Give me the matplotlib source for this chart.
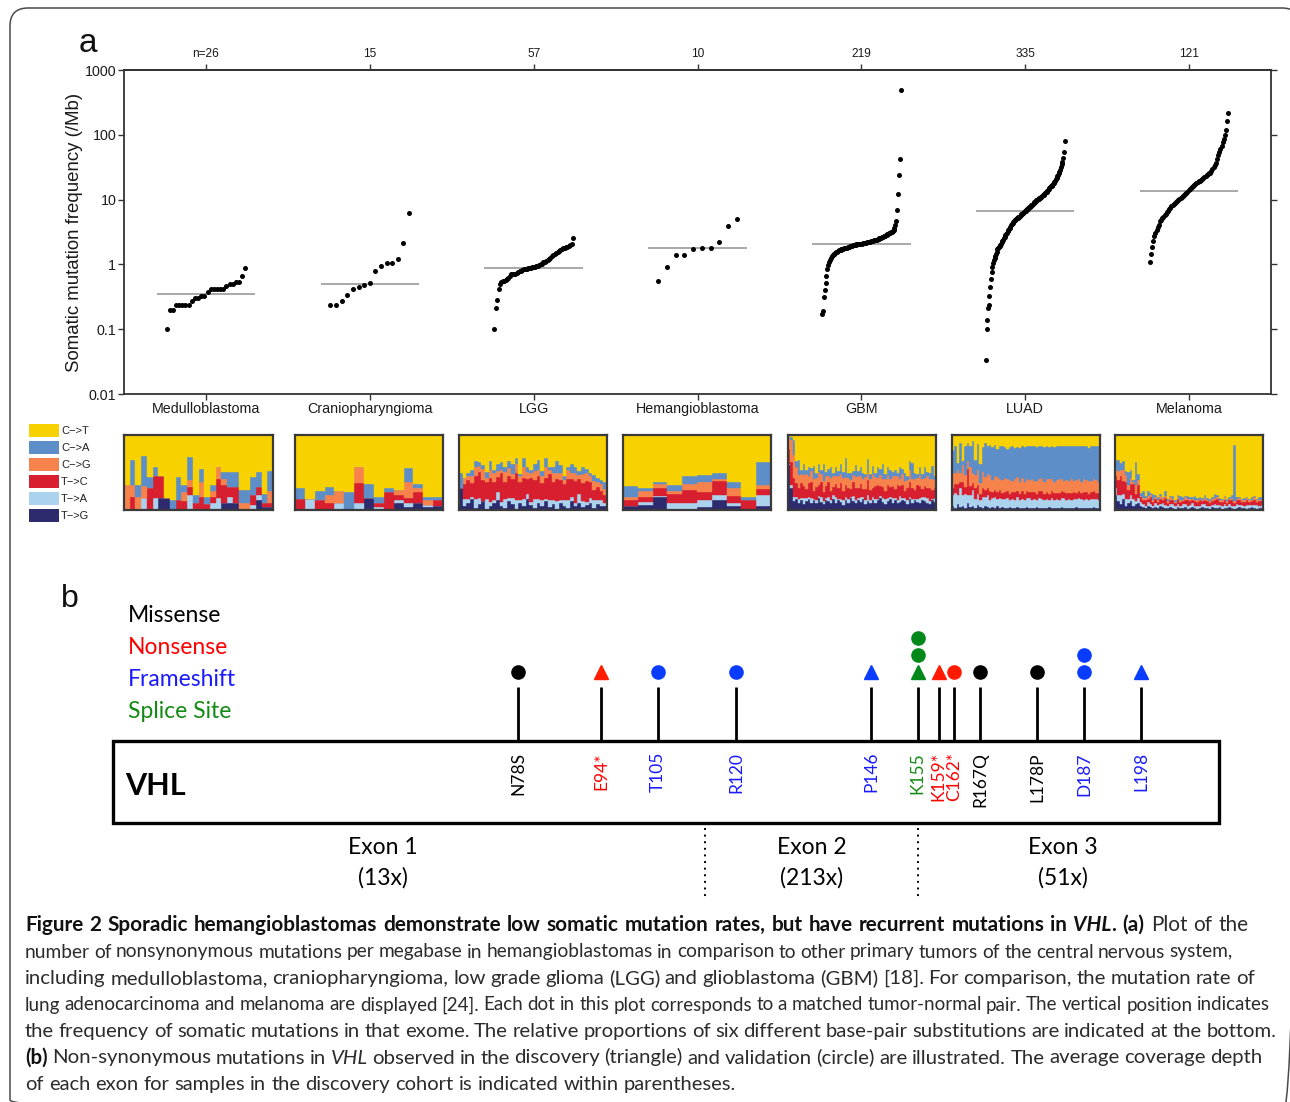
import matplotlib
matplotlib.use('Agg')
import matplotlib.pyplot as plt
import numpy as np
from matplotlib.patches import Rectangle, FancyBboxPatch

W, H = 1290, 1102

# ---------------- panel a: mutation rates (/Mb), sorted per tumour type
groups = ["Medulloblastoma", "Craniopharyngioma", "LGG", "Hemangioblastoma", "GBM", "LUAD", "Melanoma"]
group_n = ["n=26", "15", "57", "10", "219", "335", "121"]

medullo_rate = [0.10, 0.20, 0.20, 0.24, 0.24, 0.24, 0.24, 0.24, 0.27, 0.30, 0.30, 0.33, 0.33,
                0.37, 0.41, 0.41, 0.41, 0.41, 0.41, 0.47, 0.50, 0.50, 0.53, 0.54, 0.67, 0.89]
cranio_rate = [0.24, 0.24, 0.27, 0.34, 0.41, 0.45, 0.48, 0.52, 0.79, 0.96, 1.06, 1.06, 1.22, 2.17, 6.3]
lgg_rate = [0.10, 0.21, 0.28, 0.42, 0.50, 0.53, 0.55, 0.56, 0.58, 0.60,
            0.62, 0.66, 0.70, 0.72, 0.72, 0.72, 0.73, 0.75, 0.78, 0.80,
            0.82, 0.84, 0.85, 0.86, 0.87, 0.88, 0.89, 0.90, 0.91, 0.92,
            0.93, 0.95, 0.97, 1.00, 1.03, 1.07, 1.10, 1.14, 1.18, 1.22,
            1.27, 1.34, 1.40, 1.46, 1.52, 1.57, 1.62, 1.67, 1.72, 1.76,
            1.80, 1.84, 1.88, 1.93, 1.98, 2.05, 2.55]
hemangio_rate = [0.55, 0.92, 1.38, 1.41, 1.75, 1.78, 1.81, 2.24, 3.9, 5.1]
gbm_rate = [0.17, 0.19, 0.31, 0.40, 0.52, 0.66, 0.84, 0.98, 1.09, 1.18,
            1.26, 1.33, 1.38, 1.43, 1.47, 1.51, 1.55, 1.58, 1.61, 1.64,
            1.66, 1.68, 1.70, 1.72, 1.74, 1.76, 1.78, 1.80, 1.82, 1.84,
            1.86, 1.88, 1.90, 1.92, 1.94, 1.96, 1.98, 2.00, 2.02, 2.04,
            2.05, 2.06, 2.07, 2.08, 2.09, 2.10, 2.11, 2.12, 2.13, 2.14,
            2.16, 2.18, 2.20, 2.22, 2.24, 2.26, 2.28, 2.30, 2.32, 2.34,
            2.36, 2.39, 2.42, 2.45, 2.48, 2.52, 2.56, 2.60, 2.64, 2.68,
            2.73, 2.78, 2.83, 2.88, 2.93, 2.98, 3.03, 3.08, 3.13, 3.19,
            3.27, 3.40, 3.6, 4.1, 4.7, 6.8, 12.3, 23.6, 43, 485]
luad_rate = [0.034, 0.10, 0.14, 0.21, 0.24, 0.33, 0.45, 0.59, 0.75, 0.92,
             1.05, 1.15, 1.25, 1.35, 1.45, 1.55, 1.70, 1.77, 1.85, 1.93,
             2.01, 2.10, 2.19, 2.29, 2.40, 2.52, 2.65, 2.80, 2.95, 3.10,
             3.23, 3.37, 3.52, 3.67, 3.83, 4.00, 4.17, 4.35, 4.52, 4.65,
             4.76, 4.87, 4.99, 5.11, 5.23, 5.36, 5.48, 5.61, 5.75, 5.89,
             6.03, 6.17, 6.32, 6.47, 6.62, 6.78, 6.94, 7.11, 7.28, 7.45,
             7.63, 7.82, 8.01, 8.20, 8.40, 8.61, 8.82, 9.03, 9.25, 9.48,
             9.70, 9.90, 10.1, 10.3, 10.5, 10.7, 10.9, 11.1, 11.4, 11.6,
             11.9, 12.2, 12.5, 12.9, 13.3, 13.7, 14.1, 14.6, 15.0, 15.5,
             16.0, 16.5, 17.1, 17.6, 18.2, 18.8, 19.6, 20.6, 21.7, 22.8,
             24.0, 25.3, 26.6, 29.0, 31.8, 35.0, 38.5, 44, 55, 79.7]
melanoma_rate = [1.10, 1.45, 1.85, 2.33, 2.75, 3.10, 3.42, 3.75, 4.10, 4.6,
                 4.85, 5.15, 5.45, 5.75, 6.05, 6.35, 6.7, 7.05, 7.45, 7.85,
                 8.25, 8.6, 8.95, 9.3, 9.6, 9.9, 10.3, 10.6, 11.0, 11.3,
                 11.8, 12.3, 12.8, 13.3, 13.9, 14.5, 15.1, 15.6, 16.1, 16.6,
                 17.2, 17.8, 18.4, 19.1, 19.7, 20.3, 21.0, 21.7, 22.4, 23.1,
                 23.8, 24.5, 25.3, 26.0, 27.5, 29.5, 31.5, 34, 37, 42,
                 48, 54, 60, 68, 77, 87, 100, 118, 165, 214]
median_rate = [0.355, 0.507, 0.89, 1.77, 2.1, 6.6, 13.5]

# ---------------- substitution spectra (% per sample), rows: T->G, T->A, T->C, C->G, C->A ; C->T is the rest
medullo_mix = [
    [0, 0, 0, 0, 0, 0, 16, 16, 0, 0, 0, 0, 0, 0, 0, 0, 0, 9, 9, 9, 0, 0, 0, 13, 4, 4],
    [0, 0, 0, 16, 0, 16, 0, 0, 0, 0, 0, 20, 0, 0, 0, 10, 16, 0, 9, 0, 0, 0, 7, 7, 0, 0],
    [0, 18, 0, 0, 30, 29, 29, 0, 0, 13, 12, 11, 10, 18, 8, 8, 26, 24, 13, 22, 0, 0, 13, 11, 5, 5],
    [34, 16, 18, 16, 0, 0, 0, 0, 0, 0, 12, 9, 0, 20, 0, 7, 16, 9, 0, 0, 9, 9, 0, 0, 0, 16],
    [0, 33, 15, 40, 14, 13, 0, 0, 13, 31, 9, 31, 10, 17, 10, 9, 0, 9, 20, 20, 18, 18, 24, 20, 12, 27],
]
cranio_mix = [
    [0, 0, 0, 0, 0, 0, 0, 16, 0, 0, 10, 4, 9, 4, 6],
    [0, 15, 0, 0, 10, 0, 9, 0, 4, 0, 3, 6, 0, 3, 0],
    [15, 0, 13, 10, 0, 0, 27, 0, 6, 24, 7, 6, 15, 0, 8],
    [0, 0, 0, 10, 15, 0, 22, 0, 0, 0, 7, 22, 6, 6, 0],
    [15, 0, 12, 11, 0, 24, 0, 19, 8, 6, 0, 18, 5, 4, 3],
]
lgg_mix = [
    [30, 5, 10, 15, 3, 8, 12, 0, 5, 10, 14, 6, 3, 12, 8, 0, 10, 5, 15, 7, 3, 10, 6, 12, 4, 8, 0, 10, 5, 3, 12, 6, 9, 4, 7, 10, 3, 8, 5, 6],
    [0, 10, 5, 3, 12, 8, 0, 15, 6, 3, 10, 5, 12, 4, 8, 14, 3, 10, 6, 4, 12, 5, 8, 3, 10, 6, 12, 4, 8, 10, 5, 3, 12, 8, 4, 6, 10, 5, 8, 4],
    [0, 20, 25, 18, 30, 35, 28, 22, 32, 25, 20, 38, 22, 30, 26, 35, 24, 28, 20, 32, 25, 30, 22, 28, 34, 24, 30, 26, 22, 28, 25, 30, 20, 24, 28, 22, 14, 18, 12, 10],
    [0, 8, 5, 10, 12, 8, 15, 6, 10, 12, 8, 5, 14, 10, 6, 12, 8, 15, 10, 6, 12, 8, 10, 14, 6, 12, 8, 10, 5, 12, 8, 10, 6, 12, 10, 8, 12, 6, 10, 8],
    [20, 0, 5, 8, 8, 5, 5, 8, 12, 3, 10, 10, 6, 10, 14, 8, 3, 12, 7, 5, 10, 14, 6, 12, 4, 8, 15, 10, 6, 4, 12, 8, 5, 10, 6, 4, 8, 6, 5, 10],
]
hemangio_mix = [
    [6, 7, 18, 2, 1, 4, 13, 6, 0, 5],
    [0, 4, 1, 8, 9, 10, 7, 3, 0, 15],
    [7, 7, 11, 12, 17, 10, 19, 10, 13, 8],
    [5, 8, 5, 4, 8, 14, 3, 10, 0, 5],
    [14, 3, 2, 8, 10, 9, 8, 9, 4, 31],
]
gbm_mix = [
    [60, 30, 12, 15, 10, 14, 8, 12, 15, 10, 13, 9, 16, 11, 8, 14, 12, 10, 15, 9, 13, 11, 7, 14, 10, 16, 12, 9, 13, 11,
     15, 8, 12, 10, 14, 9, 13, 16, 11, 8, 12, 15, 10, 13, 9, 11, 14, 12, 8, 15, 10, 13, 11, 9, 14, 12, 10, 8, 13, 11],
    [2, 4, 6, 3, 5, 2, 8, 4, 3, 6, 2, 5, 3, 7, 4, 2, 6, 3, 5, 8, 2, 4, 6, 3, 5, 2, 7, 4, 3, 6,
     2, 5, 8, 3, 4, 6, 2, 3, 5, 7, 4, 2, 6, 3, 5, 8, 2, 4, 6, 3, 5, 2, 4, 7, 3, 5, 6, 4, 2, 5],
    [20, 30, 25, 18, 14, 20, 16, 12, 18, 22, 10, 17, 14, 20, 12, 16, 19, 13, 11, 18, 15, 21, 12, 17, 14, 10, 19, 16, 13, 18,
     11, 15, 20, 14, 12, 17, 19, 13, 15, 11, 18, 14, 16, 12, 20, 13, 17, 10, 15, 19, 14, 12, 18, 16, 11, 15, 13, 17, 12, 14],
    [15, 30, 30, 22, 18, 12, 15, 20, 10, 14, 16, 12, 18, 10, 15, 13, 9, 17, 14, 11, 16, 12, 18, 10, 14, 12, 9, 15, 17, 11,
     13, 16, 10, 14, 18, 12, 9, 15, 11, 16, 13, 10, 14, 17, 12, 9, 15, 13, 11, 16, 12, 14, 10, 15, 13, 11, 16, 12, 14, 10],
    [3, 4, 20, 8, 20, 5, 14, 6, 12, 4, 18, 7, 10, 5, 22, 6, 9, 15, 4, 11, 6, 13, 8, 25, 7, 10, 5, 16, 6, 12,
     9, 4, 18, 7, 11, 5, 14, 8, 20, 6, 10, 13, 5, 9, 4, 17, 7, 11, 6, 12, 22, 8, 5, 10, 7, 15, 6, 9, 18, 5],
]
luad_mix = [
    [5, 3, 8, 4, 6, 3, 10, 4, 5, 3, 7, 4, 3, 5, 4, 3, 4, 3, 5, 3, 4, 3, 3, 4, 3, 3, 4, 3, 3, 3,
     4, 3, 3, 3, 4, 3, 3, 3, 3, 4, 3, 3, 3, 3, 4, 3, 3, 3, 3, 3, 4, 3, 3, 3, 3, 3, 3, 4, 3, 3],
    [15, 20, 12, 25, 14, 18, 10, 16, 22, 12, 15, 9, 14, 12, 16, 11, 12, 14, 10, 13, 11, 12, 13, 10, 12, 11, 13, 10, 12, 11,
     12, 13, 11, 12, 10, 13, 12, 11, 12, 10, 13, 11, 12, 11, 12, 13, 11, 12, 10, 12, 11, 13, 12, 11, 12, 10, 12, 11, 12, 11],
    [10, 12, 15, 8, 18, 10, 35, 12, 9, 14, 11, 8, 12, 10, 9, 12, 8, 10, 9, 11, 8, 9, 10, 8, 9, 10, 8, 9, 10, 8,
     9, 8, 10, 9, 8, 9, 10, 8, 9, 8, 10, 9, 8, 9, 10, 8, 9, 8, 10, 9, 8, 9, 8, 10, 9, 8, 9, 10, 8, 9],
    [20, 15, 18, 12, 22, 16, 10, 25, 14, 18, 20, 15, 22, 17, 19, 21, 16, 18, 20, 15, 17, 19, 16, 18, 15, 17, 19, 16, 18, 15,
     17, 16, 18, 15, 17, 16, 18, 15, 17, 19, 16, 15, 17, 18, 16, 15, 17, 16, 18, 15, 17, 16, 15, 17, 16, 18, 15, 16, 17, 15],
    [30, 35, 10, 40, 5, 38, 25, 28, 42, 20, 35, 25, 33, 45, 38, 40, 44, 42, 38, 43, 45, 41, 40, 44, 46, 42, 40, 45, 43, 47,
     44, 45, 43, 46, 45, 44, 42, 47, 45, 43, 44, 46, 45, 44, 43, 46, 45, 47, 44, 46, 45, 44, 47, 45, 46, 44, 47, 45, 46, 47],
]
melanoma_mix = [
    [20, 12, 8, 15, 6, 10, 12, 5, 8, 10, 6, 4, 3, 5, 4, 3, 4, 3, 5, 4, 3, 3, 4, 3, 2, 4, 3, 3, 4, 2,
     3, 4, 3, 2, 3, 4, 3, 3, 2, 4, 3, 3, 4, 2, 3, 3, 4, 3, 2, 3, 4, 3, 3, 2, 3, 4, 3, 2, 3, 3],
    [10, 8, 12, 6, 9, 5, 8, 10, 4, 6, 5, 4, 3, 6, 4, 3, 5, 4, 3, 5, 4, 3, 4, 5, 3, 4, 3, 5, 4, 3,
     4, 5, 3, 4, 3, 4, 5, 3, 4, 3, 5, 4, 3, 4, 5, 3, 4, 3, 4, 5, 3, 4, 3, 5, 4, 3, 4, 5, 3, 4],
    [15, 20, 25, 18, 22, 12, 15, 20, 10, 18, 6, 5, 8, 4, 10, 5, 6, 4, 7, 5, 9, 4, 6, 5, 4, 7, 5, 4, 6, 8,
     5, 4, 6, 5, 7, 4, 5, 6, 4, 5, 6, 8, 4, 5, 6, 4, 5, 7, 4, 5, 6, 4, 5, 6, 4, 5, 7, 4, 6, 5],
    [10, 12, 8, 15, 10, 6, 8, 3, 12, 6, 2, 3, 2, 4, 3, 2, 3, 2, 4, 2, 3, 2, 3, 2, 2, 3, 2, 2, 3, 2,
     3, 2, 2, 3, 2, 2, 3, 2, 2, 3, 2, 3, 2, 2, 3, 2, 2, 3, 2, 2, 3, 2, 2, 3, 2, 2, 3, 2, 2, 3],
    [12, 15, 10, 12, 5, 18, 10, 2, 30, 8, 4, 10, 3, 6, 2, 8, 2, 4, 3, 2, 6, 3, 2, 4, 3, 2, 6, 3, 2, 4,
     2, 3, 5, 2, 3, 2, 4, 2, 3, 2, 5, 2, 3, 2, 2, 3, 2, 4, 75, 3, 2, 2, 3, 2, 2, 3, 2, 2, 3, 2],
]
spec_labels = ["C\u2212>T", "C\u2212>A", "C\u2212>G", "T\u2212>C", "T\u2212>A", "T\u2212>G"]
spec_colors = ["#f8d200", "#5e8ec8", "#f7834c", "#d81f2f", "#acd3ee", "#2d2a6e"]   # legend order

# ---------------- panel b: VHL mutations
mut_pos = [78, 94, 105, 120, 146, 155, 159, 162, 167, 178, 187, 198]
mut_label = ["N78S", "E94*", "T105", "R120", "P146", "K155", "K159*", "C162*", "R167Q", "L178P", "D187", "L198"]
mut_type = ["Missense", "Nonsense", "Frameshift", "Frameshift", "Frameshift", "Splice Site",
            "Nonsense", "Nonsense", "Missense", "Missense", "Frameshift", "Frameshift"]
n_discovery = [0, 1, 0, 0, 1, 1, 1, 0, 0, 0, 0, 1]    # triangles
n_validation = [1, 0, 1, 1, 0, 2, 0, 1, 1, 1, 2, 0]   # circles
vhl_length = 213
exon_bounds = [114, 155]
exon_names = ["Exon 1", "Exon 2", "Exon 3"]
exon_cov = ["(13x)", "(213x)", "(51x)"]
exon_label_pos = [52, 134.5, 183]
type_names = ["Missense", "Nonsense", "Frameshift", "Splice Site"]
type_colors = {"Missense": "#000000", "Nonsense": "#ff1a00", "Frameshift": "#0a3cff", "Splice Site": "#00891a"}
type_text_colors = {"Missense": "#000000", "Nonsense": "#ff0000", "Frameshift": "#1a1aff", "Splice Site": "#138a13"}

caption_lines = [
    [("Figure 2 Sporadic hemangioblastomas demonstrate low somatic mutation rates, but have recurrent mutations in ", "bold", "normal"),
     ("VHL", "bold", "italic"), (". (a)", "bold", "normal"), (" Plot of the", "normal", "normal")],
    [("number of nonsynonymous mutations per megabase in hemangioblastomas in comparison to other primary tumors of the central nervous system,", "normal", "normal")],
    [("including medulloblastoma, craniopharyngioma, low grade glioma (LGG) and glioblastoma (GBM) [18]. For comparison, the mutation rate of", "normal", "normal")],
    [("lung adenocarcinoma and melanoma are displayed [24]. Each dot in this plot corresponds to a matched tumor-normal pair. The vertical position indicates", "normal", "normal")],
    [("the frequency of somatic mutations in that exome. The relative proportions of six different base-pair substitutions are indicated at the bottom.", "normal", "normal")],
    [("(b)", "bold", "normal"), (" Non-synonymous mutations in ", "normal", "normal"), ("VHL", "normal", "italic"),
     (" observed in the discovery (triangle) and validation (circle) are illustrated. The average coverage depth", "normal", "normal")],
    [("of each exon for samples in the discovery cohort is indicated within parentheses.", "normal", "normal")],
]
caption_line_end = [1249, 1233, 1255, 1270, 1276, 1262, 738]


def px_rect(x0, y0, x1, y1):
    return [x0 / W, 1 - y1 / H, (x1 - x0) / W, (y1 - y0) / H]


fig = plt.figure(figsize=(W / 100, H / 100), dpi=100)
fig.patch.set_facecolor("white")
renderer = fig.canvas.get_renderer()

# overlay in pixel units for border, labels and caption
ov = fig.add_axes([0, 0, 1, 1], zorder=-5)
ov.set_xlim(0, W)
ov.set_ylim(H, 0)
ov.axis("off")
ov.add_patch(FancyBboxPatch((10, 8), 1290, 1110, boxstyle="round,pad=0,rounding_size=18",
                            fill=False, ec="#4a4a4a", lw=1.1))

sans = "Liberation Sans"
ov.text(79, 52, "a", fontsize=24, family=sans, va="baseline", ha="left", color="#111")
ov.text(61, 607, "b", fontsize=23, family=sans, va="baseline", ha="left", color="#111")

# ---------------- panel a scatter
ax = fig.add_axes(px_rect(124, 70, 1271, 394))
rates = [medullo_rate, cranio_rate, lgg_rate, hemangio_rate, gbm_rate, luad_rate, melanoma_rate]
for i, vals in enumerate(rates):
    xs = i + 1 + np.linspace(-0.24, 0.24, len(vals))
    ax.scatter(xs, vals, s=13, c="black", linewidths=0, zorder=3)
    ax.hlines(median_rate[i], i + 1 - 0.3, i + 1 + 0.3, color="#a8a8a8", lw=1.4, zorder=2)
ax.set_yscale("log")
ax.set_ylim(0.01, 1000)
ax.set_xlim(0.5, 7.5)
ax.set_yticks([0.01, 0.1, 1, 10, 100, 1000])
ax.set_yticklabels(["0.01", "0.1", "1", "10", "100", "1000"])
ax.minorticks_off()
ax.set_xticks(np.arange(1, 8))
ax.set_xticklabels(groups)
ax.tick_params(axis="both", direction="out", length=4, width=1, color="#333", labelsize=10.3,
               labelcolor="#1a1a1a", pad=2)
ax.tick_params(axis="y", right=True, pad=1.5)
for lab in ax.get_xticklabels() + ax.get_yticklabels():
    lab.set_family(sans)
top = ax.secondary_xaxis("top")
top.set_xticks(np.arange(1, 8))
top.set_xticklabels(group_n)
top.tick_params(direction="out", length=4, width=1, color="#333", labelsize=8.6, labelcolor="#1a1a1a", pad=3)
for lab in top.get_xticklabels():
    lab.set_family(sans)
top.spines["top"].set_linewidth(1.3)
top.spines["top"].set_color("#333")
for sp in ax.spines.values():
    sp.set_linewidth(1.3)
    sp.set_color("#333")
ax.set_ylabel("Somatic mutation frequency (/Mb)", fontsize=13.4, family=sans, color="#1a1a1a")
ax.yaxis.set_label_coords(-(124 - 83) / 1147, 0.5)

# ---------------- substitution panels
mixes = [medullo_mix, cranio_mix, lgg_mix, hemangio_mix, gbm_mix, luad_mix, melanoma_mix]
panel_px = [(124, 273), (295, 443), (459, 607), (623, 771), (788, 936), (952, 1100), (1115, 1263)]
stack_colors = spec_colors[::-1]   # bottom to top: T->G ... C->T
for mix, (x0, x1) in zip(mixes, panel_px):
    axs = fig.add_axes(px_rect(x0, 435, x1, 510))
    arr = np.array(mix, dtype=float)
    stack = np.vstack([arr, 100 - arr.sum(axis=0)])
    n = stack.shape[1]
    xx = np.arange(n)
    bottom = np.zeros(n)
    for row, col in zip(stack, stack_colors):
        axs.bar(xx, row, width=1.0, bottom=bottom, color=col, edgecolor=col, linewidth=0.3)
        bottom += row
    axs.set_xlim(-0.5, n - 0.5)
    axs.set_ylim(0, 100)
    axs.set_xticks([])
    axs.set_yticks([])
    for sp in axs.spines.values():
        sp.set_color("#3a3a3a")
        sp.set_linewidth(1.6)

for k, (lab, col) in enumerate(zip(spec_labels, spec_colors)):
    y0 = 424 + 17 * k
    ov.add_patch(Rectangle((29, y0), 30, 13, fc=col, ec="none"))
    ov.text(61, y0 + 6.8, lab, fontsize=8, family=sans, va="center", ha="left", color="#222")

# ---------------- panel b
bfont = "Lato"
axb = fig.add_axes(px_rect(113, 585, 1219, 905))
axb.set_xlim(0, vhl_length)
axb.set_ylim(905, 585)
axb.axis("off")

for k, name in enumerate(type_names):
    axb.text(2.9, 615 + 32 * k, name, fontsize=16.5, family=bfont, color=type_text_colors[name],
             va="center", ha="left")

axb.add_patch(Rectangle((0, 741), vhl_length, 82, fill=False, ec="black", lw=2.4, clip_on=False))
axb.text(2.3, 786, "VHL", fontsize=22, family=bfont, fontweight="bold", va="center", ha="left")
axb.vlines(mut_pos, 687, 741, color="black", lw=2.0, clip_on=False)
for pos, lab, mt, nd, nv in zip(mut_pos, mut_label, mut_type, n_discovery, n_validation):
    col = type_colors[mt]
    for k in range(nd + nv):
        mk = "^" if k < nd else "o"
        ms = 10 if mk == "^" else 9.5
        axb.plot(pos, 672 - 17 * k, marker=mk, ms=ms, color=col, mec=col, clip_on=False)
    axb.text(pos, 752, lab, rotation=90, ha="center", va="top", fontsize=12.5, family=bfont,
             color=type_text_colors[mt])

for xb in exon_bounds:
    axb.vlines(xb, 828, 898, color="black", lw=1.4, linestyles=(0, (1, 2.4)), clip_on=False)
for xp, nm, cv in zip(exon_label_pos, exon_names, exon_cov):
    axb.text(xp, 847, nm, fontsize=16.5, family=bfont, ha="center", va="center")
    axb.text(xp, 878, cv, fontsize=16.5, family=bfont, ha="center", va="center")

# ---------------- caption (roughly justified like the journal layout)
cap_font = "Lato"


def text_width(txt, size, weight, style):
    t = ov.text(0, 0, "|" + txt + "|", fontsize=size, family=cap_font, fontweight=weight, fontstyle=style)
    t2 = ov.text(0, 0, "||", fontsize=size, family=cap_font, fontweight=weight, fontstyle=style)
    w = t.get_window_extent(renderer).width - t2.get_window_extent(renderer).width
    t.remove()
    t2.remove()
    return w


def tokenize(runs):
    tokens = []
    for txt, wt, st in runs:
        parts = txt.split(" ")
        for j, p in enumerate(parts):
            if j > 0:
                tokens.append((" ", wt, st))
            if p:
                tokens.append((p, wt, st))
    return tokens


base_size = 12.0
scales = []
for runs, x_end in zip(caption_lines[:-1], caption_line_end[:-1]):
    wline = sum(text_width(txt, base_size, wt, st) for txt, wt, st in runs)
    scales.append((x_end - 25) / wline)
med_scale = float(np.median(scales))

for li, runs in enumerate(caption_lines):
    if li < len(scales):
        size = base_size * min(max(scales[li] * 1.005, med_scale * 0.93), med_scale * 1.03)
    else:
        size = base_size * med_scale
    tokens = tokenize(runs)
    widths = [text_width(t, size, wt, st) for t, wt, st in tokens]
    n_sp = sum(1 for t, _, _ in tokens if t == " ")
    extra = 0.0
    if li < len(caption_lines) - 1 and n_sp:
        extra = (caption_line_end[li] - 25 - sum(widths)) / n_sp
    x = 25
    y = 931 + 26.5 * li
    for (t, wt, st), w in zip(tokens, widths):
        if t == " ":
            x += w + extra
            continue
        ov.text(x, y, t, fontsize=size, family=cap_font, fontweight=wt, fontstyle=st,
                va="baseline", ha="left", color="#111" if wt == "bold" else "#2b2b2b")
        x += w

fig.savefig("out.png", dpi=100, facecolor="white")
